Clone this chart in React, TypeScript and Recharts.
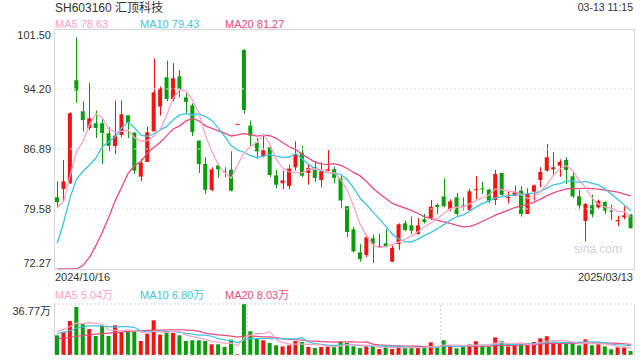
import { ComposedChart, Bar, Line, XAxis, YAxis, ReferenceLine, Cell } from 'recharts';

const RED = '#f2140f';
const GREEN = '#0a9d0a';
const MA5_COLOR = '#ffa3c4';
const MA10_COLOR = '#3ec3e2';
const MA20_COLOR = '#ec4a7d';

// daily candles, 2024/10/16 .. 2025/03/13
const opens = [
  81.00, 82.02, 82.71, 95.26, 91.48, 89.45, 90.02, 90.02, 88.80, 87.26,
  88.60, 90.99, 88.88, 83.52, 85.31, 89.04, 92.05, 95.62, 92.98, 95.74,
  93.18, 92.21, 87.91, 85.06, 81.90, 84.90, 84.17, 84.37, 89.95, 98.95,
  89.73, 87.70, 86.00, 87.09, 83.68, 82.71, 82.38, 84.66, 86.44, 83.97,
  84.66, 83.11, 84.25, 84.41, 83.36, 79.91, 77.10, 74.30, 73.98, 76.01,
  74.99, 75.40, 73.16, 75.32, 77.83, 77.59, 76.53, 78.32, 78.48, 80.07,
  81.12, 79.58, 81.00, 79.99, 79.46, 81.90, 82.10, 81.94, 80.68, 83.97,
  80.96, 81.20, 81.81, 78.97, 81.69, 83.11, 84.25, 84.41, 84.86, 85.55,
  83.56, 81.12, 78.12, 80.03, 79.78, 80.43, 79.38, 78.08, 78.57, 78.89,
];
const closes = [
  80.43, 82.95, 91.24, 94.00, 90.42, 90.63, 89.45, 88.84, 87.26, 88.51,
  91.11, 90.10, 84.25, 85.18, 88.92, 93.79, 94.28, 92.98, 95.50, 94.16,
  92.62, 88.96, 85.06, 81.90, 84.41, 84.41, 84.13, 81.81, 89.95, 91.64,
  88.51, 86.61, 86.73, 83.72, 82.54, 83.07, 84.49, 86.16, 83.64, 84.58,
  83.36, 84.17, 84.41, 83.36, 80.60, 76.78, 74.42, 73.49, 76.13, 75.32,
  75.07, 74.99, 74.83, 77.71, 77.02, 76.94, 77.59, 78.00, 79.86, 79.82,
  79.91, 80.51, 78.97, 79.91, 81.73, 81.98, 82.02, 80.60, 83.84, 81.29,
  81.04, 81.61, 78.97, 81.41, 82.46, 84.09, 85.88, 84.66, 85.31, 84.33,
  81.12, 79.99, 80.19, 78.93, 80.55, 79.38, 79.30, 78.24, 78.81, 77.23,
];
const highs = [
  82.95, 85.55, 91.36, 100.49, 92.70, 94.89, 91.56, 90.67, 89.53, 92.78,
  92.78, 90.99, 88.88, 85.67, 89.61, 97.94, 94.48, 97.65, 97.33, 96.51,
  93.75, 92.45, 87.91, 85.88, 84.66, 84.90, 84.66, 86.61, 89.95, 99.03,
  90.34, 88.23, 88.51, 87.30, 84.33, 84.25, 84.98, 87.82, 87.26, 85.06,
  85.39, 85.27, 86.77, 84.74, 83.64, 79.91, 77.43, 75.32, 76.45, 76.45,
  76.53, 77.14, 75.11, 77.83, 78.16, 78.65, 78.48, 78.97, 80.68, 80.27,
  83.28, 80.76, 81.53, 81.00, 82.02, 83.60, 82.91, 82.02, 84.33, 83.97,
  81.73, 82.42, 82.38, 82.10, 82.54, 84.66, 87.50, 86.48, 85.63, 85.88,
  84.25, 81.90, 80.31, 81.33, 80.72, 80.51, 80.11, 78.77, 79.91, 78.97,
];
const lows = [
  79.70, 80.60, 82.63, 92.53, 89.04, 89.20, 88.23, 85.06, 86.61, 86.28,
  88.31, 88.23, 83.84, 82.95, 85.31, 89.04, 90.95, 92.70, 92.70, 93.18,
  91.24, 88.47, 83.97, 81.41, 81.73, 83.36, 83.44, 81.73, 89.95, 91.15,
  87.17, 85.67, 85.88, 83.44, 82.14, 82.02, 82.02, 84.25, 83.44, 82.54,
  82.83, 82.22, 84.17, 82.71, 79.66, 76.13, 74.26, 73.16, 73.69, 73.00,
  74.91, 74.91, 73.16, 74.59, 76.86, 76.53, 76.45, 77.83, 78.24, 78.97,
  79.78, 79.30, 78.77, 79.38, 79.38, 80.80, 81.41, 80.27, 80.07, 81.20,
  80.27, 81.12, 78.65, 78.97, 80.60, 82.22, 84.13, 83.60, 83.52, 82.63,
  80.92, 79.50, 75.64, 78.57, 79.58, 78.97, 78.24, 77.51, 78.32, 77.23,
];
const ma5 = [
  79.78, 80.51, 83.64, 86.61, 87.81, 89.85, 91.15, 90.67, 89.32, 88.94,
  89.03, 89.16, 88.25, 87.83, 87.91, 88.45, 89.28, 91.03, 93.09, 94.14,
  93.91, 92.84, 91.26, 88.54, 86.59, 84.95, 83.98, 83.33, 84.94, 86.39,
  87.21, 87.70, 88.69, 87.44, 85.62, 84.53, 84.11, 84.00, 83.98, 84.39,
  84.45, 84.38, 84.03, 83.98, 83.18, 81.86, 79.91, 77.73, 76.28, 75.23,
  74.89, 75.00, 75.27, 75.58, 75.92, 76.30, 76.82, 77.45, 77.88, 78.44,
  79.04, 79.62, 79.81, 79.82, 80.21, 80.62, 80.92, 81.25, 82.03, 81.95,
  81.76, 81.68, 81.35, 80.86, 81.10, 81.71, 82.56, 83.70, 84.48, 84.85,
  84.26, 83.08, 82.19, 80.91, 80.16, 79.81, 79.67, 79.28, 79.26, 78.59,
];
const ma10 = [
  75.40, 77.96, 81.00, 83.23, 84.17, 84.94, 85.79, 87.17, 87.78, 88.37,
  89.44, 90.16, 89.46, 88.58, 88.43, 88.74, 89.22, 89.64, 90.46, 91.03,
  91.18, 91.06, 91.15, 90.82, 90.37, 89.43, 88.41, 87.30, 86.74, 86.49,
  86.08, 85.84, 86.01, 86.19, 86.01, 85.87, 85.91, 86.34, 85.71, 85.01,
  84.49, 84.25, 84.01, 83.98, 83.78, 83.16, 82.15, 80.88, 80.13, 79.20,
  78.38, 77.46, 76.50, 75.93, 75.58, 75.59, 75.91, 76.36, 76.73, 77.18,
  77.67, 78.22, 78.63, 78.85, 79.32, 79.83, 80.27, 80.53, 80.93, 81.08,
  81.19, 81.30, 81.30, 81.45, 81.52, 81.73, 82.12, 82.53, 82.67, 82.98,
  82.98, 82.82, 82.94, 82.70, 82.51, 82.03, 81.38, 80.73, 80.08, 79.37,
];
const ma20 = [
  72.27, 72.27, 72.27, 72.27, 72.72, 73.69, 75.11, 76.74, 78.57, 80.60,
  82.22, 83.93, 84.86, 85.39, 86.36, 87.09, 87.70, 88.51, 89.33, 89.70,
  90.31, 90.61, 90.30, 89.70, 89.40, 89.08, 88.82, 88.47, 88.60, 88.76,
  88.63, 88.45, 88.58, 88.50, 88.19, 87.65, 87.16, 86.82, 86.23, 85.75,
  85.28, 85.04, 85.01, 85.09, 84.89, 84.51, 84.03, 83.61, 82.92, 82.10,
  81.43, 80.85, 80.26, 79.96, 79.68, 79.37, 79.03, 78.62, 78.43, 78.19,
  78.02, 77.84, 77.57, 77.39, 77.45, 77.71, 78.09, 78.45, 78.83, 79.13,
  79.43, 79.76, 79.97, 80.15, 80.42, 80.78, 81.20, 81.53, 81.80, 82.03,
  82.09, 82.06, 82.12, 82.07, 82.01, 81.88, 81.75, 81.63, 81.38, 81.18,
];

// volume in 万手
const volumes = [
  14.2, 16.6, 24.5, 34.6, 22.6, 18.7, 13.7, 21.4, 13.7, 21.4,
  16.6, 17.3, 17.8, 10.1, 15.4, 25.0, 14.7, 15.9, 15.9, 14.2,
  10.1, 10.6, 10.6, 10.1, 7.7, 7.7, 5.8, 11.1, 0.5, 36.77,
  17.1, 11.8, 10.6, 8.7, 7.0, 6.2, 7.0, 10.1, 9.4, 5.8,
  5.0, 5.8, 6.2, 6.2, 9.6, 8.7, 6.2, 5.0, 6.2, 6.2,
  4.3, 6.2, 4.3, 6.2, 5.0, 5.0, 6.2, 5.0, 9.1, 5.3,
  10.6, 6.2, 4.8, 6.2, 7.7, 9.9, 6.7, 6.2, 12.7, 9.9,
  6.2, 7.0, 7.7, 7.7, 9.4, 12.0, 13.5, 8.7, 7.9, 8.7,
  8.7, 7.0, 11.3, 7.0, 7.7, 6.2, 4.1, 5.5, 5.5, 2.9,
];
const volMa5 = [
  17.0, 18.5, 20.5, 23.0, 22.5, 23.4, 22.8, 22.2, 18.0, 17.8,
  17.4, 18.1, 17.4, 16.6, 15.4, 17.1, 16.6, 16.2, 17.4, 17.1,
  14.2, 13.3, 12.3, 11.1, 9.8, 9.3, 8.4, 8.5, 6.6, 12.4,
  14.3, 15.5, 15.4, 17.0, 11.0, 8.9, 7.9, 7.8, 7.9, 7.7,
  7.5, 7.2, 6.4, 5.8, 6.6, 7.3, 7.4, 7.1, 7.1, 6.5,
  5.6, 5.6, 5.4, 5.4, 5.2, 5.3, 5.3, 5.5, 6.1, 6.1,
  7.2, 7.2, 7.2, 6.6, 7.1, 7.0, 7.1, 7.3, 8.6, 9.1,
  8.3, 8.4, 8.7, 7.7, 7.6, 8.8, 10.1, 10.3, 10.3, 10.2,
  9.5, 8.2, 8.7, 8.5, 8.3, 7.8, 7.3, 6.1, 5.8, 4.8,
];
const volMa10 = [
  15.5, 16.5, 17.5, 19.5, 20.5, 21.0, 21.0, 21.0, 20.5, 20.1,
  20.4, 20.5, 19.8, 17.3, 16.6, 17.2, 17.3, 16.8, 17.0, 16.3,
  15.6, 15.0, 14.3, 14.3, 13.5, 11.8, 10.9, 10.4, 8.8, 11.1,
  11.8, 11.9, 11.9, 11.8, 11.7, 11.6, 11.7, 11.6, 12.5, 9.4,
  8.2, 7.6, 7.1, 6.9, 7.1, 7.4, 7.3, 6.8, 6.5, 6.5,
  6.4, 6.5, 6.3, 6.3, 5.8, 5.5, 5.5, 5.5, 5.8, 5.7,
  6.3, 6.3, 6.3, 6.3, 6.6, 7.1, 7.2, 7.3, 7.6, 8.1,
  7.7, 7.7, 8.0, 8.2, 8.3, 8.6, 9.2, 9.5, 9.0, 8.9,
  9.1, 9.1, 9.5, 9.4, 9.3, 8.7, 7.7, 7.4, 7.2, 6.6,
];
const volMa20 = [
  11.8, 12.2, 12.8, 13.5, 14.0, 14.5, 15.0, 15.4, 15.8, 16.2,
  16.6, 17.0, 17.3, 17.5, 17.7, 17.9, 18.0, 18.1, 18.2, 18.2,
  18.0, 17.7, 17.0, 15.8, 15.0, 14.5, 14.1, 13.6, 12.9, 13.7,
  13.7, 13.4, 13.1, 13.0, 12.6, 11.7, 11.3, 11.0, 10.7, 10.2,
  10.0, 9.7, 9.5, 9.3, 9.4, 9.5, 9.5, 9.2, 9.5, 7.9,
  7.3, 7.0, 6.7, 6.6, 6.5, 6.4, 6.4, 6.1, 6.1, 6.1,
  6.4, 6.4, 6.3, 6.3, 6.2, 6.3, 6.3, 6.4, 6.7, 6.9,
  7.0, 7.0, 7.2, 7.3, 7.5, 7.8, 8.2, 8.4, 8.3, 8.5,
  8.4, 8.4, 8.8, 8.8, 8.8, 8.6, 8.5, 8.4, 8.1, 7.7,
];

const priceTicks = [72.27, 79.58, 86.89, 94.2, 101.5];
const volTicks = [0, 36.77];

const rows = opens.map((open, i) => ({
  i: i + 1,
  open,
  close: closes[i],
  high: highs[i],
  low: lows[i],
  ma5: ma5[i],
  ma10: ma10[i],
  ma20: ma20[i],
  vol: volumes[i],
  vma5: volMa5[i],
  vma10: volMa10[i],
  vma20: volMa20[i],
}));

const FONT = '"Liberation Sans", Arial, "Noto Sans CJK SC", sans-serif';

const Candle = (props: any) => {
  const { x, y, width, height, payload } = props;
  const { open, close, high, low } = payload;
  const color = close >= open ? RED : GREEN;
  const span = high - low;
  const toY = (v: number) => (span === 0 ? y : y + ((high - v) / span) * height);
  const cx = Math.round(x + width / 2) + 0.5;
  const top = toY(Math.max(open, close));
  const bot = toY(Math.min(open, close));
  return (
    <g>
      <line x1={cx} x2={cx} y1={y} y2={y + height} stroke={color} strokeWidth={1} />
      <rect x={x} y={top} width={width} height={Math.max(bot - top, 1)} fill={color} />
    </g>
  );
};

const PriceTick = ({ y, payload }: any) => {
  const v = payload.value;
  let dy = 4;
  if (v === 101.5) dy = 10;
  if (v === 72.27) dy = -2;
  return (
    <text x={51} y={y + dy} textAnchor="end" fontSize={11} fill="#333" fontFamily={FONT}>
      {v.toFixed(2)}
    </text>
  );
};

const VolTick = ({ y, payload }: any) => {
  const v = payload.value;
  return (
    <text x={51} y={y + (v === 0 ? -2 : 11)} textAnchor="end" fontSize={11} fill="#333" fontFamily={FONT}>
      {v === 0 ? '0' : `${v.toFixed(2)}万`}
    </text>
  );
};

export default function App() {
  return (
    <div style={{ position: 'absolute', left: 0, top: 0, width: 640, height: 360, background: '#fff', fontFamily: FONT }}>
      <div style={{ position: 'absolute', left: 0, top: 0 }}>
        <ComposedChart width={640} height={290} data={rows} margin={{ top: 29, right: 6, bottom: 21, left: 0 }}>
          <XAxis dataKey="i" hide />
          <YAxis
            width={54}
            domain={[72.27, 101.5]}
            ticks={priceTicks}
            allowDataOverflow
            axisLine={false}
            tickLine={false}
            tick={<PriceTick />}
          />
          {[79.58, 86.89, 94.2].map((v) => (
            <ReferenceLine key={v} y={v} stroke="#e2e2e2" strokeDasharray="2 2" />
          ))}
          <Bar dataKey={(d: any) => [d.low, d.high]} barSize={4} shape={<Candle />} isAnimationActive={false} />
          <Line dataKey="ma20" stroke={MA20_COLOR} strokeWidth={1.3} dot={false} isAnimationActive={false} />
          <Line dataKey="ma10" stroke={MA10_COLOR} strokeWidth={1.3} dot={false} isAnimationActive={false} />
          <Line dataKey="ma5" stroke={MA5_COLOR} strokeWidth={1.3} dot={false} isAnimationActive={false} />
        </ComposedChart>
      </div>
      <div style={{ position: 'absolute', left: 0, top: 290 }}>
        <ComposedChart width={640} height={70} data={rows} margin={{ top: 14, right: 6, bottom: 5, left: 0 }}>
          <XAxis dataKey="i" hide />
          <YAxis
            width={54}
            domain={[0, 36.77]}
            ticks={volTicks}
            allowDataOverflow
            axisLine={false}
            tickLine={false}
            tick={<VolTick />}
          />
          <ReferenceLine y={36.77} stroke="#d0d0d0" strokeDasharray="2 2" />
          <ReferenceLine y={0} stroke="#d0d0d0" strokeDasharray="2 2" />
          <ReferenceLine x={30} position="end" stroke="#cfcfcf" strokeDasharray="2 2" />
          <ReferenceLine x={60} position="end" stroke="#cfcfcf" strokeDasharray="2 2" />
          <Bar dataKey="vol" barSize={4} isAnimationActive={false}>
            {rows.map((r) => (
              <Cell key={r.i} fill={r.close >= r.open ? RED : GREEN} />
            ))}
          </Bar>
          <Line dataKey="vma20" stroke={MA20_COLOR} strokeWidth={1.2} dot={false} isAnimationActive={false} />
          <Line dataKey="vma10" stroke={MA10_COLOR} strokeWidth={1.2} dot={false} isAnimationActive={false} />
          <Line dataKey="vma5" stroke={MA5_COLOR} strokeWidth={1.2} dot={false} isAnimationActive={false} />
        </ComposedChart>
      </div>
      {/* panel borders */}
      <div style={{ position: 'absolute', left: 54, top: 29, width: 581, height: 241, boxSizing: 'border-box', border: '1px solid #d6d6d6' }} />
      <div style={{ position: 'absolute', left: 54, top: 304, width: 581, height: 52, boxSizing: 'border-box', borderLeft: '1px solid #d6d6d6', borderRight: '1px solid #d6d6d6' }} />
      <svg width={640} height={360} style={{ position: 'absolute', left: 0, top: 0, pointerEvents: 'none' }} fontFamily={FONT}>
        <text x={55} y={8} dominantBaseline="central" fontSize={12} fill="#333">SH603160 汇顶科技</text>
        <text x={633} y={7} dominantBaseline="central" textAnchor="end" fontSize={10.5} fill="#333">03-13 11:15</text>
        <text x={55} y={24} dominantBaseline="central" fontSize={11} fill={MA5_COLOR}>MA5 78.63</text>
        <text x={140} y={24} dominantBaseline="central" fontSize={11} fill={MA10_COLOR}>MA10 79.43</text>
        <text x={225} y={24} dominantBaseline="central" fontSize={11} fill={MA20_COLOR}>MA20 81.27</text>
        <text x={622} y={249} dominantBaseline="central" textAnchor="end" fontSize={12} fill="#d2d2d2">sina.com</text>
        <text x={55} y={277} dominantBaseline="central" fontSize={11} fill="#333">2024/10/16</text>
        <text x={633} y={277} dominantBaseline="central" textAnchor="end" fontSize={11} fill="#333">2025/03/13</text>
        <text x={55} y={295} dominantBaseline="central" fontSize={11} fill={MA5_COLOR}>MA5 5.04万</text>
        <text x={140} y={295} dominantBaseline="central" fontSize={11} fill={MA10_COLOR}>MA10 6.80万</text>
        <text x={225} y={295} dominantBaseline="central" fontSize={11} fill={MA20_COLOR}>MA20 8.03万</text>
      </svg>
    </div>
  );
}
